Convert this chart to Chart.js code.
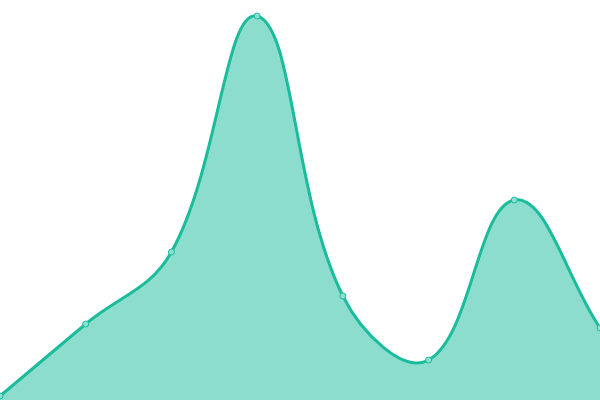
<!DOCTYPE html>
<html>
<head>
<meta charset="utf-8">
<script src="https://cdn.jsdelivr.net/npm/chart.js@4"></script>
<style>
  html, body { margin: 0; padding: 0; background: #fff; }
  #wrap { width: 600px; height: 400px; }
</style>
</head>
<body>
<div id="wrap"><canvas id="areaChart"></canvas></div>
<script>
const labels = ["1", "2", "3", "4", "5", "6", "7", "8"];
const values = [1, 19, 37, 96, 26, 10, 50, 18];

const ctx = document.getElementById("areaChart").getContext("2d");
const chart = new Chart(ctx, {
  type: "line",
  data: {
    labels: labels,
    datasets: [{
      data: values,
      borderColor: "#1abc9c",
      backgroundColor: "rgba(26, 188, 156, 0.5)",
      borderWidth: 3,
      fill: true,
      tension: 0.4,
      pointRadius: 3,
      pointBorderWidth: 1,
      pointBackgroundColor: "#8ce0cf",
      pointBorderColor: "#1abc9c"
    }]
  },
  options: {
    responsive: true,
    maintainAspectRatio: false,
    animation: false,
    layout: { padding: 0, autoPadding: false },
    plugins: {
      legend: { display: false },
      tooltip: { enabled: false }
    },
    scales: {
      x: { display: false },
      y: { display: false, min: 0, max: 100 }
    }
  }
});
</script>
</body>
</html>
